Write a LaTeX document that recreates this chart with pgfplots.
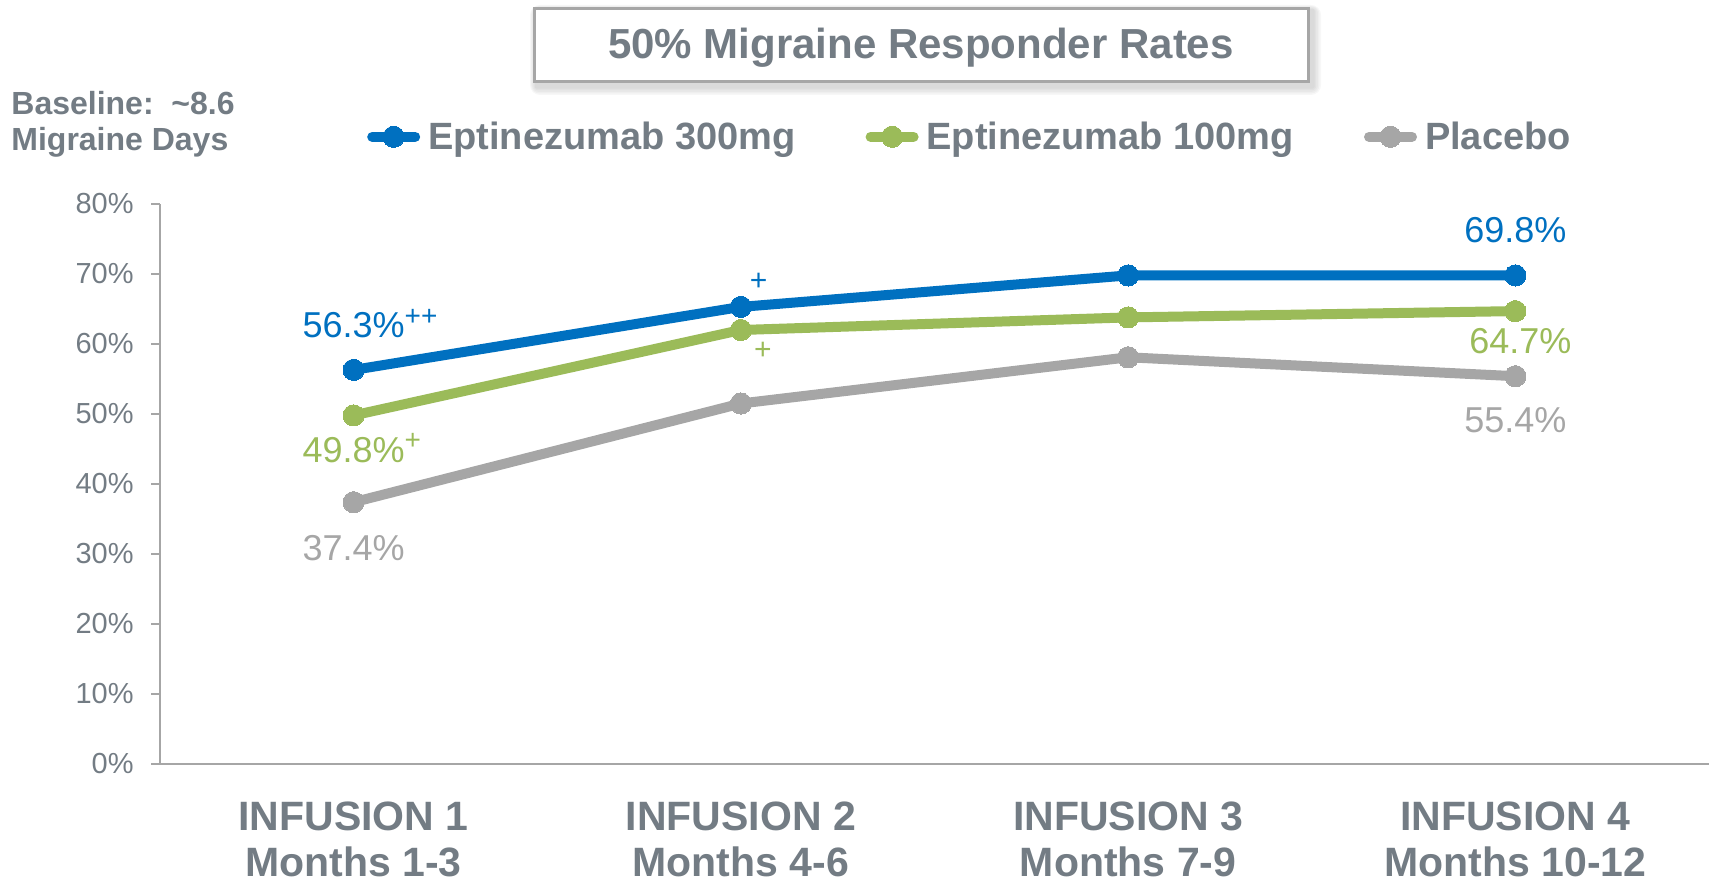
\documentclass[border=0pt]{standalone}
\usepackage{fontspec}
\setmainfont{Liberation Sans}
\usepackage{pgfplots}
\pgfplotsset{compat=1.18}
\definecolor{cBlue}{HTML}{0070C0}
\definecolor{cGreen}{HTML}{9BBB59}
\definecolor{cGray}{HTML}{A6A6A6}
\definecolor{cText}{HTML}{737C84}
\definecolor{cAxis}{HTML}{A6A6A6}
\begin{document}
\begin{tikzpicture}
\path (0,0) rectangle (854.5pt,441pt);
% title box with soft shadow
\foreach \s in {1,2,3,4,5}{
  \fill[black,opacity=0.03,rounded corners=\s pt] ({268pt-\s*0.6pt},{397.5pt-\s*0.8pt}) rectangle ({656.5pt+\s*0.8pt},{436pt+\s*0.5pt});
}
\draw[line width=1.5pt, draw=cGray, fill=white] (267pt,400pt) rectangle (654pt,436.5pt);
\node[anchor=base, inner sep=0pt, text=cText, font=\fontsize{21}{25}\selectfont\bfseries] at (460.5pt,411.5pt) {50\% Migraine Responder Rates};
\node[anchor=base west, inner sep=0pt, text=cText, font=\fontsize{16}{18}\selectfont\bfseries] at (5.5pt,383.5pt) {Baseline:\ \ \textasciitilde8.6};
\node[anchor=base west, inner sep=0pt, text=cText, font=\fontsize{16}{18}\selectfont\bfseries] at (5.5pt,365.5pt) {Migraine Days};
\begin{axis}[
  at={(80pt,59pt)}, anchor=south west,
  scale only axis, width=774.5pt, height=280pt,
  xmin=0.5, xmax=4.5, ymin=0, ymax=80, clip=false,
  axis lines*=left, axis line style={draw=cAxis, line width=1pt, -},
  xtick={1,2,3,4},
  xticklabels={{INFUSION 1\\Months 1-3},{INFUSION 2\\Months 4-6},{INFUSION 3\\Months 7-9},{INFUSION 4\\Months 10-12}},
  x tick style={draw=none},
  xticklabel style={anchor=north, inner sep=0pt, yshift=-18.5pt, align=center, text=cText, font=\fontsize{20.5}{23}\selectfont\bfseries},
  ytick={0,10,20,30,40,50,60,70,80},
  yticklabels={0\%,10\%,20\%,30\%,40\%,50\%,60\%,70\%,80\%},
  ytick align=outside, major tick length=4.5pt,
  y tick style={draw=cAxis, line width=1pt},
  yticklabel style={anchor=east, inner sep=0pt, xshift=-8.5pt, text=cText, font=\fontsize{14.5}{16}\selectfont},
  legend columns=3,
  legend style={at={(axis description cs:0.1335,1.12)}, anchor=west, draw=none, fill=none, inner sep=0pt,
    font=\fontsize{19}{22}\selectfont\bfseries, text=cText,
    /tikz/every odd column/.append style={column sep=4pt},
    /tikz/every even column/.append style={column sep=35pt}, nodes={inner sep=0pt}},
  legend image code/.code={\draw[mark repeat=2,mark phase=2,line cap=round,#1] plot coordinates {(2.5pt,0pt) (13.25pt,0pt) (24pt,0pt)};},
  every axis plot/.append style={line width=5pt, mark=*, mark size=5.3pt},
]
\addplot[color=cBlue, mark options={fill=cBlue, line width=0pt}] coordinates {(1,56.3) (2,65.3) (3,69.8) (4,69.8)};
\addlegendentry{Eptinezumab 300mg}
\addplot[color=cGreen, mark options={fill=cGreen, line width=0pt}] coordinates {(1,49.8) (2,62.0) (3,63.8) (4,64.7)};
\addlegendentry{Eptinezumab 100mg}
\addplot[color=cGray, mark options={fill=cGray, line width=0pt}] coordinates {(1,37.4) (2,51.5) (3,58.1) (4,55.4)};
\addlegendentry{Placebo}
\node[anchor=base, inner sep=0pt, text=cBlue, font=\fontsize{18}{20}\selectfont] at (axis cs:1,60.86) {56.3\%\rlap{\raisebox{6.2pt}{\fontsize{14}{15}\selectfont ++}}};
\node[anchor=base, inner sep=0pt, text=cGreen, font=\fontsize{18}{20}\selectfont] at (axis cs:1,43.14) {49.8\%\rlap{\raisebox{6.2pt}{\fontsize{14}{15}\selectfont +}}};
\node[anchor=base, inner sep=0pt, text=cGray, font=\fontsize{18}{20}\selectfont] at (axis cs:1,29.14) {37.4\%};
\node[anchor=base, inner sep=0pt, text=cBlue, font=\fontsize{18}{20}\selectfont] at (axis cs:4,74.43) {69.8\%};
\node[anchor=base, inner sep=0pt, text=cGreen, font=\fontsize{18}{20}\selectfont] at (axis cs:4.013,58.71) {64.7\%};
\node[anchor=base, inner sep=0pt, text=cGray, font=\fontsize{18}{20}\selectfont] at (axis cs:4,47.29) {55.4\%};
\node[inner sep=0pt, text=cBlue, font=\fontsize{15}{16}\selectfont] at (axis cs:2.046,68.86) {+};
\node[inner sep=0pt, text=cGreen, font=\fontsize{15}{16}\selectfont] at (axis cs:2.057,59.0) {+};
\end{axis}
\pgfresetboundingbox
\useasboundingbox (0,0) rectangle (854.5pt,441pt);
\end{tikzpicture}
\end{document}
